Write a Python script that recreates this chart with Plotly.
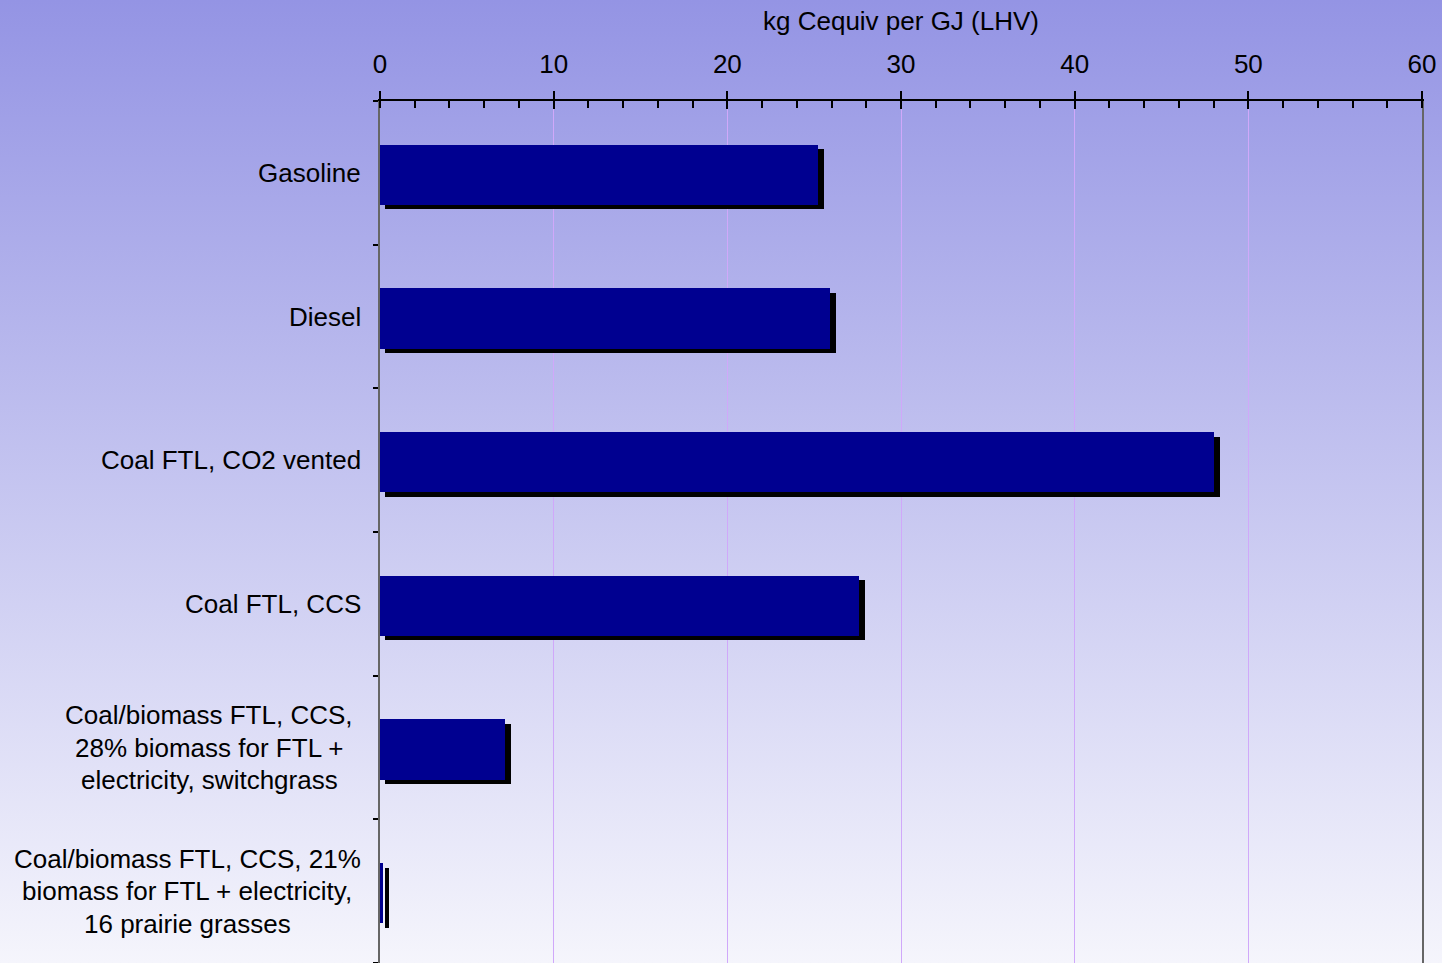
import base64
import plotly.graph_objects as go

# ---- data ----
categories = [
    "Gasoline",
    "Diesel",
    "Coal FTL, CO2 vented",
    "Coal FTL, CCS",
    "Coal/biomass FTL, CCS,<br>28% biomass for FTL +<br>electricity, switchgrass",
    "Coal/biomass FTL, CCS, 21%<br>biomass for FTL + electricity,<br>16 prairie grasses",
]
values = [25.2, 25.9, 48.0, 27.6, 7.2, 0.2]
x_ticks = [0, 10, 20, 30, 40, 50, 60]
axis_title = "kg Cequiv per GJ (LHV)"

# ---- layout geometry ----
W, H = 1442, 963
ML, MR, MT, MB = 380, 20, 101, 0
PW, PH = W - ML - MR, H - MT - MB
XMAX = 60
px_per_x = PW / XMAX
px_per_cat = PH / len(categories)

bar_w = 0.418
bar_off = -0.195
sh_dx = 4.5 / px_per_x
sh_extra = 1.5 / px_per_x
sh_dy = 4.5 / px_per_cat

FONT = "Liberation Sans, Arial, sans-serif"
FS = 26

ycat = list(range(len(categories)))
ybounds = [k - 0.5 for k in range(len(categories) + 1)]

fig = go.Figure()
# shadow
fig.add_trace(go.Bar(
    y=ycat, x=[v + sh_extra for v in values], base=[sh_dx] * len(values), orientation="h",
    width=bar_w, offset=bar_off + sh_dy,
    marker=dict(color="#000000", line=dict(width=0)),
    hoverinfo="skip", showlegend=False,
))
# main bars
fig.add_trace(go.Bar(
    y=ycat, x=values, orientation="h",
    width=bar_w, offset=bar_off,
    marker=dict(color="#000090", line=dict(width=0)),
    showlegend=False,
))

# gradient background via SVG image
svg = (
    '<svg xmlns="http://www.w3.org/2000/svg" width="100" height="100" preserveAspectRatio="none">'
    '<defs><linearGradient id="g" x1="0" y1="0" x2="0" y2="1">'
    '<stop offset="0" stop-color="#9494E4"/>'
    '<stop offset="1" stop-color="#F5F5FC"/>'
    '</linearGradient></defs>'
    '<rect width="100" height="100" fill="url(#g)"/></svg>'
)
src = "data:image/svg+xml;base64," + base64.b64encode(svg.encode()).decode()

annotations = []
# category labels
line_gap = 32.5
centers_px = {4: 209, 5: 187}
for i, lab in enumerate(categories):
    lines = lab.split("<br>")
    n = len(lines)
    for j, ln in enumerate(lines):
        ys = -(j - (n - 1) / 2) * line_gap
        if n == 1:
            annotations.append(dict(
                x=0, xref="paper", y=i, yref="y", text=ln, showarrow=False,
                xanchor="right", yanchor="middle", xshift=-17, yshift=ys,
                font=dict(family=FONT, size=FS, color="black"),
            ))
        else:
            annotations.append(dict(
                x=0, xref="paper", y=i, yref="y", text=ln, showarrow=False,
                xanchor="center", yanchor="middle", xshift=centers_px[i] - ML, yshift=ys,
                font=dict(family=FONT, size=FS, color="black"),
            ))
# axis title
annotations.append(dict(
    x=0.5, xref="paper", y=1, yref="paper", text=axis_title, showarrow=False,
    xanchor="center", yanchor="middle", yshift=MT - 21,
    font=dict(family=FONT, size=FS, color="black"),
))

fig.update_layout(
    width=W, height=H,
    margin=dict(l=ML, r=MR, t=MT, b=MB, pad=0),
    paper_bgcolor="#C4C4F0",
    plot_bgcolor="rgba(0,0,0,0)",
    barmode="overlay",
    bargap=0,
    font=dict(family=FONT, size=FS, color="black"),
    images=[dict(
        source=src, xref="paper", yref="paper",
        x=-ML / PW, y=1 + MT / PH, sizex=W / PW, sizey=H / PH,
        xanchor="left", yanchor="top", sizing="stretch", layer="below",
    )],
    annotations=annotations,
    xaxis=dict(
        side="top", range=[0, XMAX], tickvals=x_ticks,
        ticks="outside", ticklen=8, tickwidth=1.5, tickcolor="black",
        ticklabelstandoff=8,
        minor=dict(dtick=2, tick0=0, ticks="inside", ticklen=7, tickwidth=1.5,
                   tickcolor="black", showgrid=False),
        showgrid=True, gridcolor="#D0A8FA", gridwidth=1.2,
        showline=True, linecolor="black", linewidth=1.5,
        zeroline=False,
        tickfont=dict(family=FONT, size=FS, color="black"),
    ),
    xaxis2=dict(
        overlaying="x", side="top", range=[0, XMAX], tickvals=x_ticks,
        ticks="inside", ticklen=8, tickwidth=1.5, tickcolor="black",
        showticklabels=False, showgrid=False, showline=False, zeroline=False,
    ),
    yaxis=dict(
        range=[len(categories) - 0.5, -0.5],
        tickvals=ybounds, showticklabels=False,
        ticks="outside", ticklen=5, tickwidth=1.5, tickcolor="black",
        showgrid=False, zeroline=False,
        showline=True, linecolor="#666666", linewidth=2, mirror=True,
    ),
)
fig.add_trace(go.Scatter(x=[None], y=[None], xaxis="x2", yaxis="y",
                         showlegend=False, hoverinfo="skip"))

fig.write_html("out.html")
